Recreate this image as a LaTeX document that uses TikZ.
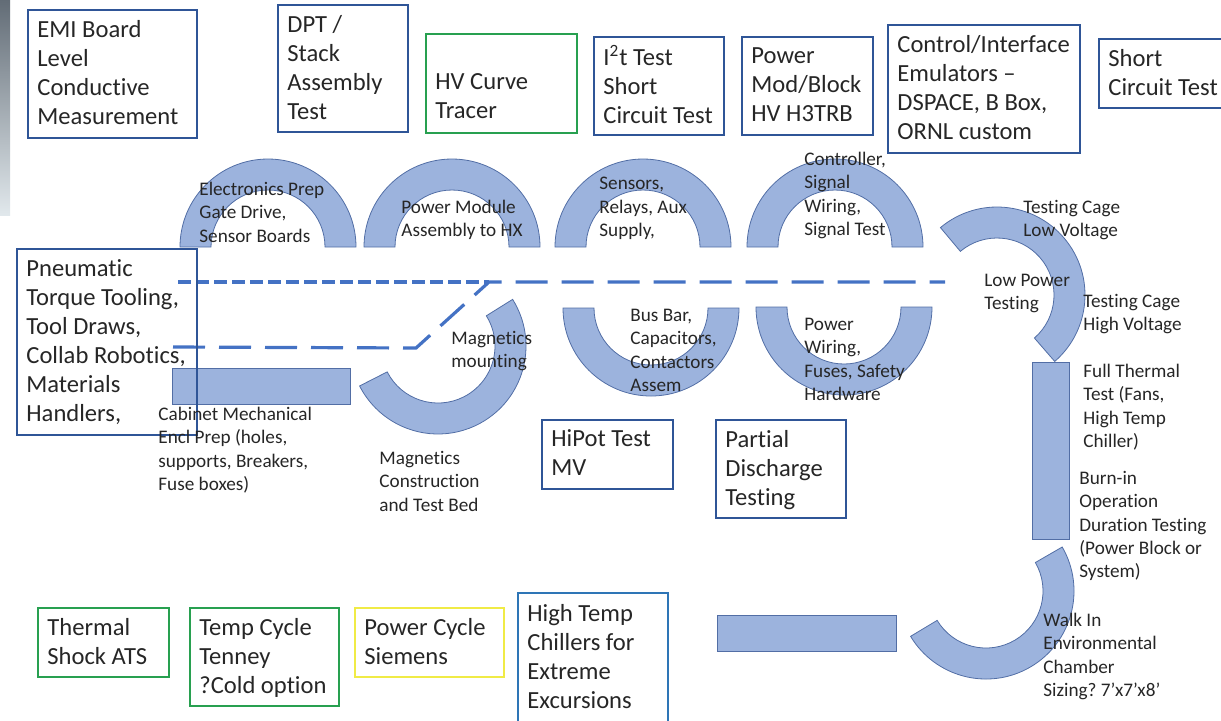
\documentclass[tikz,border=0pt]{standalone}
\usepackage{fontspec}
\setmainfont{Carlito}[Ligatures={TeX,NoCommon}]
\usetikzlibrary{positioning,calc}

\definecolor{boxblue}{RGB}{47,85,151}
\definecolor{boxgreen}{RGB}{40,160,80}
\definecolor{boxyellow}{RGB}{240,235,70}
\definecolor{boxsky}{RGB}{46,117,182}
\definecolor{arcfill}{RGB}{156,179,221}
\definecolor{arcline}{RGB}{82,110,165}
\definecolor{dashblue}{RGB}{68,114,196}
\definecolor{txt}{RGB}{38,38,38}
\definecolor{stripdark}{RGB}{98,108,118}
\definecolor{stripmid}{RGB}{150,160,170}
\definecolor{striplight}{RGB}{225,232,236}

% block arc: centre, start angle, end angle
\newcommand{\blockarc}[3]{%
  \filldraw[arcpart] ($(#1)+(#2:44pt)$) arc[start angle=#2, end angle=#3, radius=44pt]
    -- ($(#1)+(#3:28.5pt)$) arc[start angle=#3, end angle=#2, radius=28.5pt] -- cycle;}

\begin{document}
\begin{tikzpicture}[x=0.5pt, y=0.5pt,
    frame/.style={draw=boxblue, line width=0.8pt, anchor=north west, inner sep=0pt},
    gframe/.style={frame, draw=boxgreen},
    yframe/.style={frame, draw=boxyellow},
    sframe/.style={frame, draw=boxsky},
    big/.style={font=\fontsize{12.3}{14.5}\selectfont\frenchspacing, text=txt, align=left,
                inner sep=0pt, yshift=-1.5pt,
                execute at begin node=\strut, execute at end node=\strut},
    small/.style={font=\fontsize{9.6}{11.6}\selectfont\frenchspacing, text=txt, align=left,
                  inner sep=0pt, anchor=north west, execute at begin node=\strut},
    arcpart/.style={fill=arcfill, draw=arcline, line width=0.4pt},
    flow/.style={draw=dashblue, line width=1.6pt, dash pattern=on 16pt off 7pt},
    fine/.style={draw=dashblue, line width=1.6pt, dash pattern=on 6.5pt off 2.5pt},
  ]
  \useasboundingbox (0,0) rectangle (1221,-720);

  % --- slide edge ---
  \shade[top color=stripdark, middle color=stripmid, bottom color=striplight]
    (0,0) rectangle (10,-215);

  % --- process arcs ---
  \coordinate (c-elec) at (268,-247);
  \coordinate (c-pmas) at (452,-247);
  \coordinate (c-sens) at (643,-247);
  \coordinate (c-ctrl) at (835,-247);
  \coordinate (c-busb) at (651,-308);
  \coordinate (c-pwir) at (844,-307);
  \coordinate (c-magm) at (438,-346);
  \coordinate (c-lowp) at (997,-295);
  \coordinate (c-walk) at (986,-591);

  \blockarc{c-elec}{180}{0}
  \blockarc{c-pmas}{180}{0}
  \blockarc{c-sens}{180}{0}
  \blockarc{c-ctrl}{180}{0}
  \blockarc{c-busb}{180}{360}
  \blockarc{c-pwir}{180}{360}
  \blockarc{c-magm}{32}{-153}
  \blockarc{c-lowp}{130}{-49}
  \blockarc{c-walk}{30}{-149}

  \filldraw[arcpart] (172,-368) rectangle (350,-404);
  \filldraw[arcpart] (1032,-362) rectangle (1069,-539);
  \filldraw[arcpart] (717,-615) rectangle (896,-651);

  % --- dashed lines ---
  \coordinate (fa) at (178,-282);
  \coordinate (fb) at (489,-282);
  \coordinate (la) at (173,-347);
  \coordinate (lb) at (416,-348);
  \coordinate (lc) at (489,-282);
  \coordinate (ld) at (945,-282);
  \draw[fine] (fa) -- (fb);
  \draw[flow] (la) -- (lb) -- (lc) -- (ld);

  % --- top row boxes ---
  \node[frame, minimum width=84.5pt, minimum height=64pt] (emi) at (27,-9) {};
  \node[big, right=5pt of emi.west] (emi-t) {EMI Board\\Level\\Conductive\\Measurement};
  \node[frame, minimum width=65pt, minimum height=63.5pt] (dpt) at (277,-4) {};
  \node[big, right=5pt of dpt.west] (dpt-t) {DPT /\\Stack\\Assembly\\Test};
  \node[gframe, minimum width=75.5pt, minimum height=49.5pt] (hvct) at (425,-33) {};
  \node[big, right=5pt of hvct.west, yshift=-7pt] (hvct-t) {HV Curve\\Tracer};
  \node[frame, minimum width=65pt, minimum height=49pt] (itst) at (593,-36) {};
  \node[big, right=5pt of itst.west] (itst-t) {I\textsuperscript{2}t Test\\Short\\Circuit Test};
  \node[frame, minimum width=65.5pt, minimum height=49pt] (pmod) at (741,-36) {};
  \node[big, right=5pt of pmod.west] (pmod-t) {Power\\Mod/Block\\HV H3TRB};
  \node[frame, minimum width=96pt, minimum height=64pt] (ctrl) at (887,-24) {};
  \node[big, right=5pt of ctrl.west] (ctrl-t) {Control/Interface\\Emulators –\\DSPACE, B Box,\\ORNL custom};
  \node[frame, minimum width=63pt, minimum height=34.5pt] (shct) at (1098,-38) {};
  \node[big, right=5pt of shct.west] (shct-t) {Short\\Circuit Test};

  % --- middle boxes ---
  \node[frame, minimum width=90pt, minimum height=93pt] (pneu) at (16,-248) {};
  \node[big, right=5pt of pneu.west] (pneu-t) {Pneumatic\\Torque Tooling,\\Tool Draws,\\Collab Robotics,\\Materials\\Handlers,};
  \node[frame, minimum width=65.5pt, minimum height=34.5pt] (hipot) at (541,-419) {};
  \node[big, right=5pt of hipot.west] (hipot-t) {HiPot Test\\MV};
  \node[frame, minimum width=65pt, minimum height=49pt] (pdis) at (715,-419) {};
  \node[big, right=5pt of pdis.west] (pdis-t) {Partial\\Discharge\\Testing};

  % --- bottom row boxes ---
  \node[gframe, minimum width=65.5pt, minimum height=34.5pt] (tsat) at (37,-607) {};
  \node[big, right=5pt of tsat.west] (tsat-t) {Thermal\\Shock ATS};
  \node[gframe, minimum width=74.5pt, minimum height=49pt] (tcyc) at (189,-607) {};
  \node[big, right=5pt of tcyc.west] (tcyc-t) {Temp Cycle\\Tenney\\?Cold option};
  \node[yframe, minimum width=74.5pt, minimum height=34.5pt] (pcyc) at (354,-607) {};
  \node[big, right=5pt of pcyc.west] (pcyc-t) {Power Cycle\\Siemens};
  \node[sframe, minimum width=75pt, minimum height=65pt] (htch) at (517,-592) {};
  \node[big, right=5pt of htch.west] (htch-t) {High Temp\\Chillers for\\Extreme\\Excursions};

  % --- step labels ---
  \node[small] (elec) at (199,-182) {Electronics Prep\\Gate Drive,\\Sensor Boards};
  \node[small] (pmas) at (401,-200) {Power Module\\Assembly to HX};
  \node[small] (sens) at (599,-177) {Sensors,\\Relays, Aux\\Supply,};
  \node[small] (sigt) at (804,-152) {Controller,\\Signal\\Wiring,\\Signal Test};
  \node[small] (tclv) at (1023,-200) {Testing Cage\\Low Voltage};
  \node[small] (lowp) at (984,-274) {Low Power\\Testing};
  \node[small] (tchv) at (1083,-294) {Testing Cage\\High Voltage};
  \node[small] (fthm) at (1083,-364) {Full Thermal\\Test (Fans,\\High Temp\\Chiller)};
  \node[small] (burn) at (1079,-471) {Burn-in\\Operation\\Duration Testing\\(Power Block or\\System)};
  \node[small] (walk) at (1043,-613) {Walk In\\Environmental\\Chamber\\Sizing? 7’x7’x8’};
  \node[small] (magm) at (451,-331) {Magnetics\\mounting};
  \node[small] (busb) at (630,-309) {Bus Bar,\\Capacitors,\\Contactors\\Assem};
  \node[small] (pwir) at (804,-318) {Power\\Wiring,\\Fuses, Safety\\Hardware};
  \node[small] (cabm) at (158,-407) {Cabinet Mechanical\\Encl Prep (holes,\\supports, Breakers,\\Fuse boxes)};
  \node[small] (magc) at (379,-451) {Magnetics\\Construction\\and Test Bed};

\end{tikzpicture}
\end{document}
